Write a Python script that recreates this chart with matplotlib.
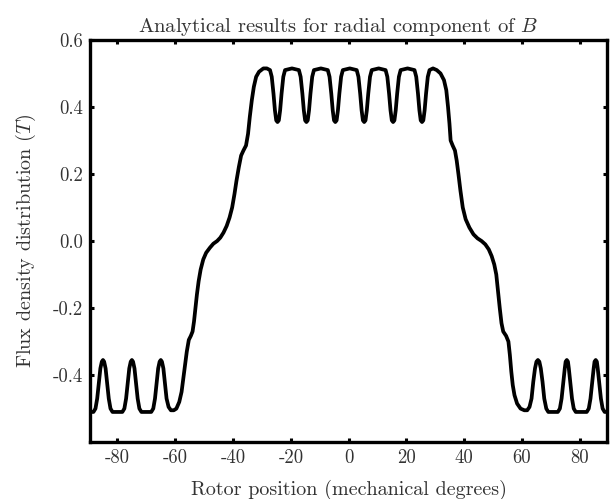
import matplotlib
matplotlib.use("Agg")
import matplotlib.pyplot as plt

# Radial flux density (degrees, tesla)
rotor_deg = [
    -89.5, -88.3, -87.6, -87.0, -86.4, -85.9, -85.4, -85.0, -84.6, -84.1, -83.6, -83.0, -82.4, -81.7,
    -78.3, -77.6, -77.0, -76.4, -75.9, -75.4, -75.0, -74.6, -74.1, -73.6, -73.0, -72.4, -71.7,
    -68.3, -67.6, -67.0, -66.4, -65.9, -65.4, -65.0, -64.6, -64.1, -63.6, -63.0, -62.3, -61.5,
    -60.5, -59.6, -58.6, -57.8, -57.2, -56.6, -56.0, -55.3, -54.6, -54.0, -53.5, -53.0, -52.5,
    -51.9, -51.2, -50.3, -49.3, -48.0, -46.8, -45.5, -44.4, -43.3, -42.2, -41.2, -40.3, -39.5,
    -38.8, -38.0, -37.2, -36.4, -35.5, -34.8, -34.2, -33.5, -32.8, -32.0, -31.0, -29.5, -28.3,
    -27.2, -26.6, -26.0, -25.5, -25.05, -24.6, -24.15, -23.7, -23.2, -22.6, -22.0, -19.6,
    -17.2, -16.6, -16.0, -15.5, -15.05, -14.6, -14.15, -13.7, -13.2, -12.6, -12.0, -9.6,
    -7.2, -6.6, -6.0, -5.5, -5.05, -4.6, -4.15, -3.7, -3.2, -2.6, -2.0, 0.4,
    2.8, 3.4, 4.0, 4.5, 4.95, 5.4, 5.85, 6.3, 6.8, 7.4, 8.0, 10.4,
    12.8, 13.4, 14.0, 14.5, 14.95, 15.4, 15.85, 16.3, 16.8, 17.4, 18.0, 20.4,
    22.8, 23.4, 24.0, 24.5, 24.95, 25.4, 25.85, 26.3, 26.8, 27.4, 28.0,
    29.2, 30.5, 31.8, 33.0, 33.8, 34.4, 34.9, 35.3, 36.0, 36.8, 37.4, 38.0, 38.7, 39.5,
    40.5, 41.8, 43.2, 44.6, 46.0, 47.3, 48.5, 49.5, 50.4, 51.1, 51.7, 52.3, 52.9, 53.5,
    54.5, 55.3, 55.8, 56.3, 56.8, 57.4, 58.3, 59.5, 60.8, 61.8, 62.6,
    63.3, 63.9, 64.5, 65.0, 65.5, 66.0, 66.5, 67.1, 67.7, 68.4, 69.1,
    72.4, 73.1, 73.7, 74.3, 74.8, 75.1, 75.5, 75.9, 76.2, 76.7, 77.3, 77.9, 78.6,
    82.4, 83.1, 83.7, 84.3, 84.8, 85.1, 85.5, 85.9, 86.2, 86.7, 87.3, 87.9, 88.6, 89.5,
]
flux_T = [
    -0.51, -0.51, -0.50, -0.47, -0.42, -0.38, -0.36, -0.355, -0.36, -0.38, -0.42, -0.47, -0.50, -0.51,
    -0.51, -0.50, -0.47, -0.42, -0.38, -0.36, -0.355, -0.36, -0.38, -0.42, -0.47, -0.50, -0.51,
    -0.51, -0.50, -0.47, -0.42, -0.38, -0.36, -0.355, -0.36, -0.38, -0.42, -0.47, -0.495, -0.505,
    -0.505, -0.50, -0.48, -0.45, -0.41, -0.37, -0.33, -0.295, -0.283, -0.27, -0.24, -0.20, -0.16,
    -0.12, -0.085, -0.055, -0.035, -0.02, -0.008, 0.0, 0.01, 0.025, 0.045, 0.07, 0.10, 0.14,
    0.18, 0.22, 0.255, 0.27, 0.285, 0.32, 0.37, 0.42, 0.46, 0.49, 0.505, 0.515, 0.515,
    0.51, 0.49, 0.44, 0.39, 0.36, 0.355, 0.36, 0.39, 0.44, 0.49, 0.51, 0.515,
    0.51, 0.49, 0.44, 0.39, 0.36, 0.355, 0.36, 0.39, 0.44, 0.49, 0.51, 0.515,
    0.51, 0.49, 0.44, 0.39, 0.36, 0.355, 0.36, 0.39, 0.44, 0.49, 0.51, 0.515,
    0.51, 0.49, 0.44, 0.39, 0.36, 0.355, 0.36, 0.39, 0.44, 0.49, 0.51, 0.515,
    0.51, 0.49, 0.44, 0.39, 0.36, 0.355, 0.36, 0.39, 0.44, 0.49, 0.51, 0.515,
    0.51, 0.49, 0.44, 0.39, 0.36, 0.355, 0.36, 0.39, 0.44, 0.49, 0.51,
    0.515, 0.51, 0.50, 0.48, 0.45, 0.40, 0.35, 0.30, 0.285, 0.27, 0.24, 0.20, 0.15, 0.10,
    0.065, 0.04, 0.02, 0.008, 0.0, -0.01, -0.025, -0.045, -0.07, -0.10, -0.15, -0.20, -0.245, -0.27,
    -0.283, -0.30, -0.34, -0.39, -0.43, -0.46, -0.485, -0.50, -0.505, -0.505, -0.495,
    -0.47, -0.42, -0.38, -0.36, -0.355, -0.36, -0.38, -0.42, -0.47, -0.50, -0.51,
    -0.51, -0.50, -0.47, -0.42, -0.38, -0.36, -0.355, -0.36, -0.38, -0.42, -0.47, -0.50, -0.51,
    -0.51, -0.50, -0.47, -0.42, -0.38, -0.36, -0.355, -0.36, -0.38, -0.42, -0.47, -0.50, -0.51, -0.51,
]

xticks = [-80, -60, -40, -20, 0, 20, 40, 60, 80]
xticklabels = ["-80", "-60", "-40", "-20", "0", "20", "40", "60", "80"]
yticks = [-0.4, -0.2, 0.0, 0.2, 0.4, 0.6]
yticklabels = ["-0.4", "-0.2", "0.0", "0.2", "0.4", "0.6"]

plt.rcParams["font.family"] = "serif"
plt.rcParams["font.serif"] = ["cmr10"]
plt.rcParams["mathtext.fontset"] = "cm"
plt.rcParams["axes.unicode_minus"] = False

fig = plt.figure(figsize=(6.10, 4.99), dpi=100)
ax = fig.add_axes([0.1475, 0.114, 0.848, 0.806])

ax.plot(rotor_deg, flux_T, color="black", linewidth=2.7, solid_joinstyle="round")

ax.set_xlim(-89.5, 89.5)
ax.set_ylim(-0.6, 0.6)
ax.set_xticks(xticks)
ax.set_xticklabels(xticklabels)
ax.set_yticks(yticks)
ax.set_yticklabels(yticklabels)

# Thick frame, short inward ticks on all four sides
for spine in ax.spines.values():
    spine.set_linewidth(2.4)
ax.tick_params(direction="in", length=3, width=2.2, top=True, right=True,
               labelsize=13.5, labelcolor="#333333", pad=5)

ax.set_title("Analytical results for radial component of $B$", fontsize=14.8,
             color="#333333", pad=6, x=0.479)
ax.set_xlabel("Rotor position (mechanical degrees)", fontsize=14.5, color="#333333", labelpad=9)
ax.set_ylabel("Flux density distribution ($T$)", fontsize=14.5, color="#333333", labelpad=11)

fig.savefig("out.png", dpi=100)
